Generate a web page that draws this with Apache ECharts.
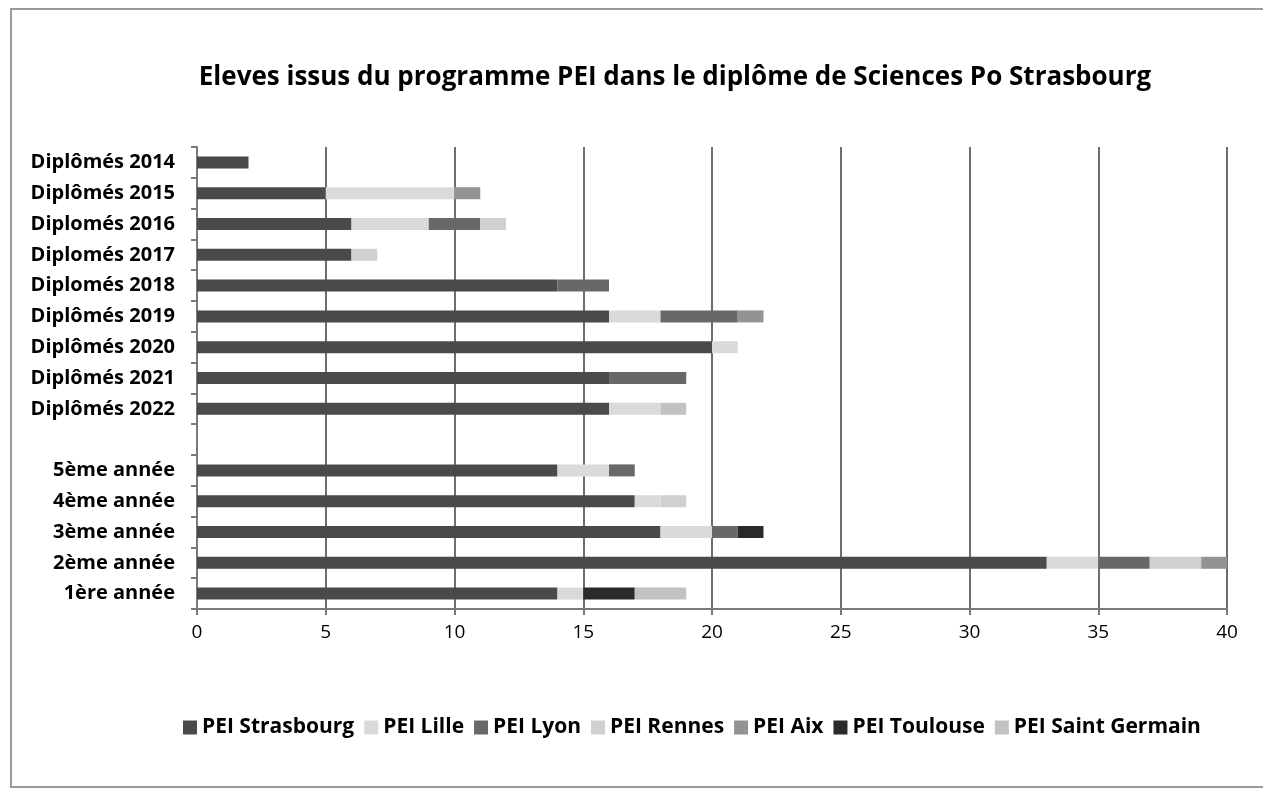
<!DOCTYPE html>
<html lang="fr">
<head>
    <meta charset="UTF-8">
    <title>PEI Sciences Po Strasbourg</title>
    <style>
        html, body { margin: 0; padding: 0; background: #fff; }
        #chartmain { width: 1263px; height: 789px; }
    </style>
</head>
<body>
    <div id="chartmain"></div>
    <script src="https://cdn.jsdelivr.net/npm/echarts@6/dist/echarts.min.js"></script>
    <script type="text/javascript">
        // categories, bottom to top (blank row separates the years from the diplomas)
        var categories = ['1ère année', '2ème année', '3ème année', '4ème année', '5ème année', '',
            'Diplômés 2022', 'Diplômés 2021', 'Diplômés 2020', 'Diplômés 2019', 'Diplomés 2018',
            'Diplomés 2017', 'Diplomés 2016', 'Diplômés 2015', 'Diplômés 2014'];

        var strasbourg   = [14, 33, 18, 17, 14, null, 16, 16, 20, 16, 14, 6, 6, 5, 2];
        var lille        = [1, 2, 2, 1, 2, null, 2, 0, 1, 2, 0, 0, 3, 5, 0];
        var lyon         = [0, 2, 1, 0, 1, null, 0, 3, 0, 3, 2, 0, 2, 0, 0];
        var rennes       = [0, 2, 0, 1, 0, null, 0, 0, 0, 0, 0, 1, 1, 0, 0];
        var aix          = [0, 1, 0, 0, 0, null, 0, 0, 0, 1, 0, 0, 0, 1, 0];
        var toulouse     = [2, 0, 1, 0, 0, null, 0, 0, 0, 0, 0, 0, 0, 0, 0];
        var saintGermain = [2, 0, 0, 0, 0, null, 1, 0, 0, 0, 0, 0, 0, 0, 0];

        var xTicks = [0, 5, 10, 15, 20, 25, 30, 35, 40];

        var seriesDefs = [
            { name: 'PEI Strasbourg', data: strasbourg, color: '#4a4a4a' },
            { name: 'PEI Lille', data: lille, color: '#dadada' },
            { name: 'PEI Lyon', data: lyon, color: '#686868' },
            { name: 'PEI Rennes', data: rennes, color: '#d0d0d0' },
            { name: 'PEI Aix', data: aix, color: '#939393' },
            { name: 'PEI Toulouse', data: toulouse, color: '#2a2a2a' },
            { name: 'PEI Saint Germain', data: saintGermain, color: '#c2c2c2' }
        ];

        var font = '"Open Sans", "DejaVu Sans", sans-serif';

        var mychart = echarts.init(document.getElementById('chartmain'));
        var option = {
            backgroundColor: '#fff',
            animation: false,
            title: {
                text: 'Eleves issus du programme PEI dans le diplôme de Sciences Po Strasbourg',
                left: 670,
                textAlign: 'center',
                top: 60,
                textStyle: {
                    fontFamily: font,
                    fontSize: 26,
                    fontWeight: 'bold',
                    color: '#000'
                }
            },
            graphic: [{
                type: 'rect',
                silent: true,
                shape: { x: 11, y: 9, width: 1300, height: 778 },
                style: { fill: 'none', stroke: '#9a9a9a', lineWidth: 2 }
            }],
            legend: {
                bottom: 46,
                left: 178,
                itemWidth: 14,
                itemHeight: 14,
                itemGap: 10,
                icon: 'rect',
                textStyle: {
                    fontFamily: font,
                    fontSize: 21,
                    fontWeight: 'bold',
                    color: '#000'
                },
                data: seriesDefs.map(function (s) { return s.name; })
            },
            grid: {
                left: 197,
                right: 36,
                top: 147,
                bottom: 180,
                containLabel: false
            },
            xAxis: {
                type: 'value',
                min: xTicks[0],
                max: xTicks[xTicks.length - 1],
                interval: xTicks[1] - xTicks[0],
                axisLine: { show: true, lineStyle: { color: '#7a7a7a', width: 2 } },
                axisTick: { show: true, length: 6, lineStyle: { color: '#7a7a7a', width: 2 } },
                splitLine: { show: true, lineStyle: { color: '#6e6e6e', width: 2 } },
                axisLabel: {
                    margin: 14,
                    fontFamily: font,
                    fontSize: 19,
                    color: '#000'
                }
            },
            yAxis: {
                type: 'category',
                data: categories,
                axisLine: { show: true, lineStyle: { color: '#7a7a7a', width: 2 } },
                axisTick: { show: true, length: 6, alignWithLabel: false, lineStyle: { color: '#7a7a7a', width: 2 } },
                splitLine: { show: false },
                axisLabel: {
                    margin: 22,
                    fontFamily: font,
                    fontSize: 20,
                    fontWeight: 'bold',
                    color: '#000'
                }
            },
            series: seriesDefs.map(function (s) {
                return {
                    name: s.name,
                    type: 'bar',
                    stack: 'total',
                    barWidth: 12,
                    itemStyle: { color: s.color },
                    data: s.data
                };
            })
        };
        mychart.setOption(option, true);
    </script>
</body>
</html>
